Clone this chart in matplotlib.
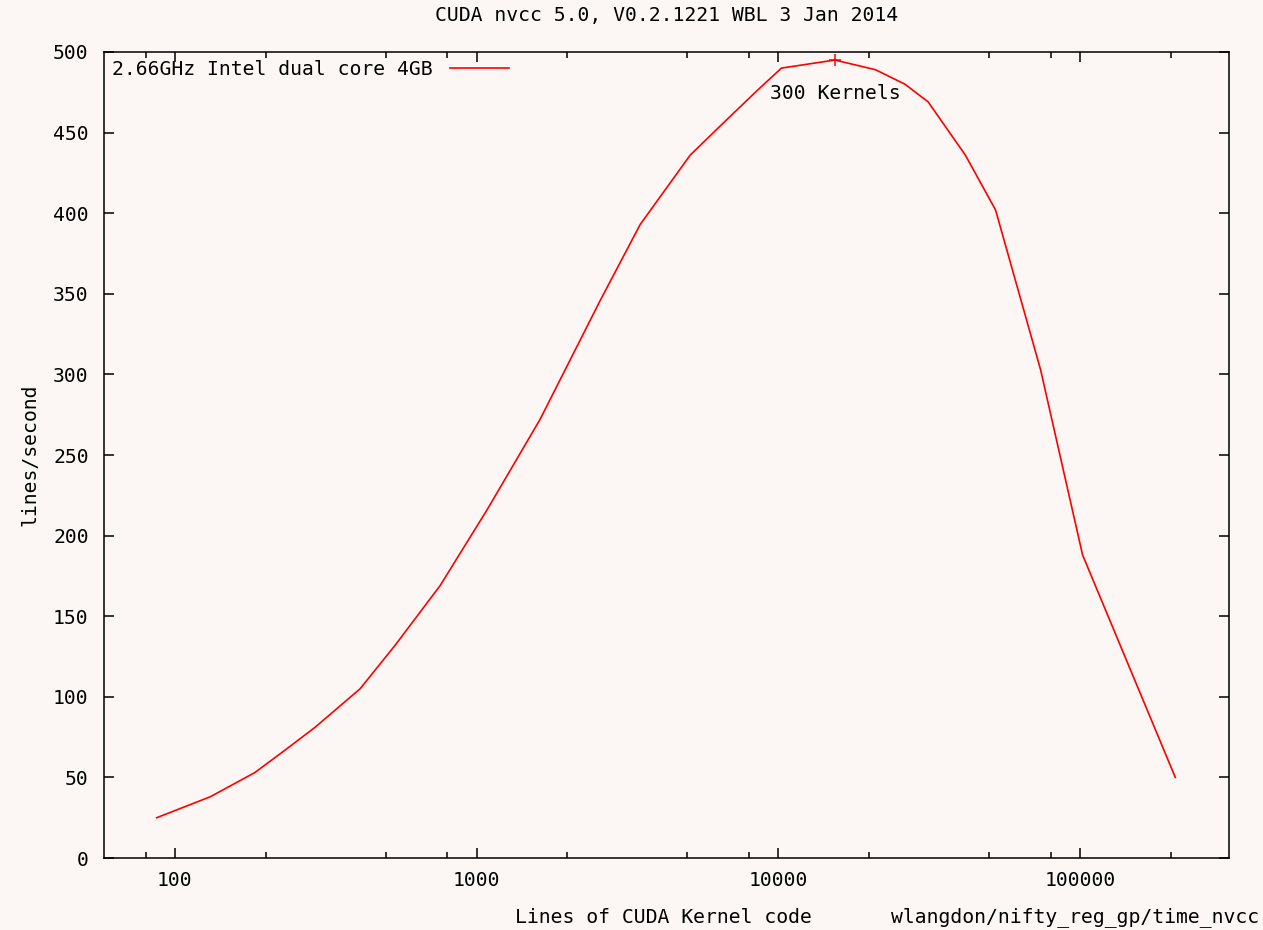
"""
gnuplot-style line chart: nvcc compile speed vs CUDA kernel size.
"""
import matplotlib
matplotlib.use("Agg")
import matplotlib.pyplot as plt
from matplotlib.ticker import FixedLocator, NullFormatter

OUTPUT = "out.png"

# lines of kernel code vs compile rate
kernel_lines = [87, 131, 184, 232, 291, 411, 537, 757, 1083, 1622, 2571, 3485,
                5104, 6170, 8500, 10240, 15400, 21000, 26300, 31400, 41700,
                52500, 74000, 102000, 207000]
lines_per_sec = [25, 38, 53, 67, 81, 105, 132, 169, 216, 272, 346, 393,
                 436, 451, 476, 490, 495, 489, 480, 469, 436,
                 402, 303, 188, 50]
peak_x, peak_y = 15400, 495
peak_label = "300 Kernels"

series_label = "2.66GHz Intel dual core 4GB"
title = "CUDA nvcc 5.0, V0.2.1221 WBL 3 Jan 2014"
major_x = [100, 1000, 10000, 100000]
minor_x = [m * 10 ** e for e in range(1, 6) for m in (2, 5, 8)]
y_ticks = list(range(0, 501, 50))

BG = "#fcf7f4"
FS = 14.2
plt.rcParams["font.family"] = ["DejaVu Sans Mono"]

fig = plt.figure(figsize=(12.63, 9.30), dpi=100)
fig.patch.set_facecolor(BG)
ax = fig.add_axes([0.0823, 0.0774, 0.8908, 0.8667])
ax.set_facecolor(BG)

ax.plot(kernel_lines, lines_per_sec, color="#ff0000", lw=1.2, label=series_label)
ax.plot([peak_x], [peak_y], marker="+", ms=9, mew=1.1, color="#ff0000", ls="none")
ax.text(peak_x, 474.5, peak_label, ha="center", va="center", fontsize=FS)

ax.set_xscale("log")
ax.set_xlim(58.17, 311900)
ax.set_ylim(0, 500)
ax.xaxis.set_major_locator(FixedLocator(major_x))
ax.xaxis.set_minor_locator(FixedLocator(minor_x))
ax.xaxis.set_minor_formatter(NullFormatter())
ax.set_xticklabels([str(v) for v in major_x])
ax.set_yticks(y_ticks)
ax.set_yticklabels([str(v) for v in y_ticks])

ax.tick_params(which="both", direction="in", top=True, right=True,
               color="black", labelsize=FS)
ax.tick_params(which="major", length=7, width=1.1)
ax.tick_params(which="minor", length=4, width=1.1)
ax.tick_params(axis="x", pad=9)
ax.tick_params(axis="y", pad=11)
for sp in ax.spines.values():
    sp.set_linewidth(1.1)
    sp.set_color("black")

ax.set_ylabel("lines/second", fontsize=FS, labelpad=10)
ax.set_title(title, fontsize=FS, pad=22)
fig.text(0.525, 0.003, "Lines of CUDA Kernel code", ha="center", va="bottom", fontsize=FS)
fig.text(0.997, 0.003, "wlangdon/nifty_reg_gp/time_nvcc", ha="right", va="bottom", fontsize=FS)

ax.legend(loc="upper left", bbox_to_anchor=(0.007, 0.99), frameon=False,
          markerfirst=False, handlelength=3.0, handletextpad=0.9,
          borderpad=0, borderaxespad=0, fontsize=FS)

fig.savefig(OUTPUT, dpi=100, facecolor=BG)
print(f"plot saved: {OUTPUT}")
